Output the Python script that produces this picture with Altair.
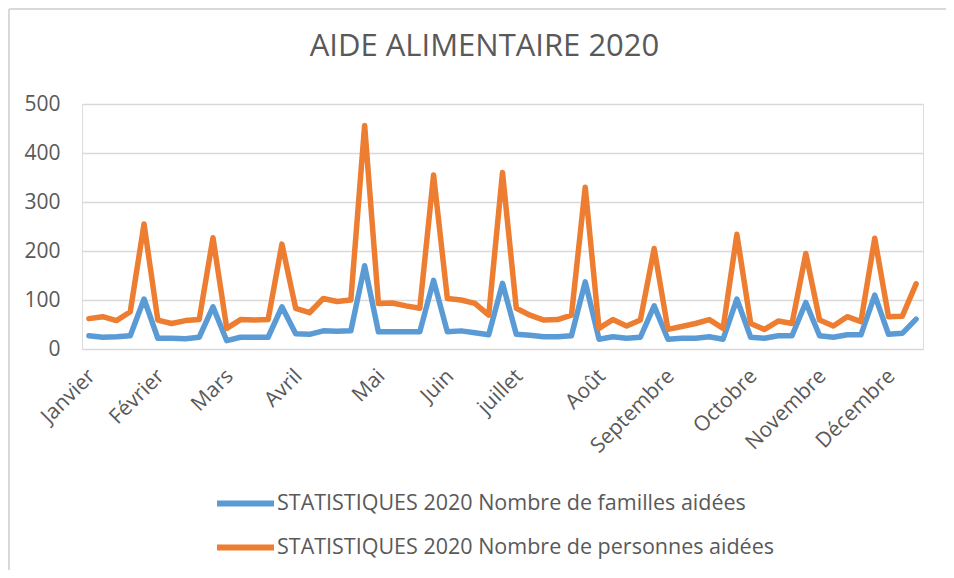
import altair as alt
import pandas as pd

# ---- data ----
familles = [27, 24, 25, 27, 102,
            22, 22, 21, 24, 86,
            17, 24, 24, 24, 86,
            31, 30, 37, 36, 37, 170,
            35, 35, 35, 35, 140,
            35, 37, 33, 29, 134,
            30, 28, 25, 25, 27, 137,
            20, 25, 22, 24, 88,
            20, 22, 22, 25, 20, 102,
            24, 22, 27, 27, 95,
            27, 24, 29, 29, 110,
            30, 32, 61]

personnes = [62, 66, 58, 76, 255,
             59, 52, 58, 60, 227,
             42, 60, 59, 60, 214,
             83, 74, 103, 97, 100, 456,
             93, 94, 88, 83, 355,
             103, 100, 93, 69, 360,
             83, 69, 59, 60, 69, 330,
             42, 60, 47, 59, 205,
             40, 46, 52, 60, 42, 234,
             52, 40, 57, 52, 195,
             59, 47, 66, 56, 226,
             66, 67, 133]

month_labels = ["Janvier", "Février", "Mars", "Avril", "Mai", "Juin", "juillet",
                "Août", "Septembre", "Octobre", "Novembre", "Décembre"]
month_positions = [0, 5, 10, 15, 21, 26, 31, 37, 42, 48, 53, 58]

y_ticks = [0, 100, 200, 300, 400, 500]

series_names = ["STATISTIQUES 2020 Nombre de familles aidées",
                "STATISTIQUES 2020 Nombre de personnes aidées"]
series_colors = ["#5B9BD5", "#ED7D31"]

# ---- build table ----
rows = []
for name, vals in zip(series_names, [familles, personnes]):
    for i, v in enumerate(vals):
        rows.append({"idx": i, "serie": name, "valeur": v})
df = pd.DataFrame(rows)

label_map = {p: m for p, m in zip(month_positions, month_labels)}
label_expr = "{" + ",".join(f"'{p}':'{m}'" for p, m in label_map.items()) + "}[datum.value]"

FONT = "Open Sans"
GREY_TXT = "#595959"
GRID = "#D9D9D9"

lines = alt.Chart(df).mark_line(strokeWidth=5.5, strokeCap="round", strokeJoin="round").encode(
    x=alt.X("idx:Q",
            scale=alt.Scale(domain=[-0.5, len(familles) - 0.5], nice=False, zero=False),
            axis=alt.Axis(values=month_positions, labelExpr=label_expr, title=None,
                          grid=False, ticks=False, domain=False,
                          labelAngle=-45, labelAlign="right", labelBaseline="top",
                          labelPadding=16, labelOffset=-5, labelFontSize=21,
                          labelColor=GREY_TXT, labelFont=FONT, labelOverlap=False,
                          labelBound=False, labelFlush=False)),
    y=alt.Y("valeur:Q",
            scale=alt.Scale(domain=[0, 500], nice=False),
            axis=alt.Axis(values=y_ticks, title=None, grid=True, gridColor=GRID,
                          gridWidth=1.5, ticks=False, domain=False,
                          labelPadding=22, labelFontSize=21, labelColor=GREY_TXT,
                          labelFont=FONT)),
    color=alt.Color("serie:N",
                    scale=alt.Scale(domain=series_names, range=series_colors),
                    legend=alt.Legend(title=None, orient="none", legendX=132, legendY=368,
                                      direction="vertical", symbolType="stroke",
                                      symbolStrokeWidth=6, symbolSize=3249,
                                      labelFontSize=21.5, labelFont=FONT, labelColor=GREY_TXT,
                                      labelLimit=800, labelOffset=0, rowPadding=-11)),
    order="idx:Q",
)

frame = pd.DataFrame({"k": [0]})
border_left = alt.Chart(frame).mark_rule(color=GRID, strokeWidth=2).encode(
    x=alt.value(-73), y=alt.value(-95), y2=alt.value(600)
)
border_top = alt.Chart(frame).mark_rule(color=GRID, strokeWidth=2).encode(
    x=alt.value(-73), x2=alt.value(1000), y=alt.value(-95)
)

chart = alt.layer(border_left, border_top, lines).properties(
    width=841, height=245,
    title=alt.TitleParams("AIDE ALIMENTAIRE 2020", fontSize=31, font=FONT, fontWeight="normal",
                          color=GREY_TXT, anchor="middle", baseline="alphabetic",
                          dx=-18, dy=79, offset=0),
    autosize=alt.AutoSizeParams(type="none"),
    padding={"left": 74, "top": 96, "right": 23, "bottom": 221},
).configure_view(stroke=None).configure(background="white")

chart.save("out.html", embed_options={"renderer": "svg", "actions": False})
